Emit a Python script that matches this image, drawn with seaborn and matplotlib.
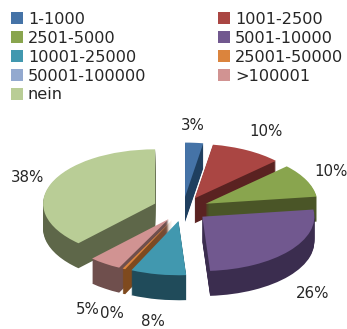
import matplotlib
matplotlib.use("Agg")
import matplotlib.pyplot as plt
import seaborn as sns

categories = ["1-1000", "1001-2500", "2501-5000", "5001-10000", "10001-25000",
              "25001-50000", "50001-100000", ">100001", "nein"]
shares = [2.6, 10.3, 10.0, 26.0, 8.0, 0.4, 0.0, 4.7, 38.0]
top_colors = ["#4573A7", "#AA4643", "#89A54E", "#71588F", "#4198AF",
              "#DB843D", "#93A9CF", "#D19392", "#B9CD96"]
side_colors = ["#1F3F5F", "#5A2221", "#4A5527", "#3B2D4F", "#204B5A",
               "#7F4A1E", "#55627A", "#6F4F4D", "#5E6749"]

W, H = 347, 329
SQUASH = 0.485
CX, CY = 183, 209
RADIUS = 112
DEPTH = 25
FONT = "DejaVu Sans"

sns.set_theme(style="white")
plt.rcParams["font.family"] = [FONT]

fig = plt.figure(figsize=(W / 100, H / 100), dpi=100, facecolor="white")
ax = fig.add_axes([0, 0, 1, 1])
ey = (H - CY) / SQUASH
explode = [25, 25, 25, 25, 25, 25, 25, 25, 30]

for d in range(DEPTH, 0, -1):
    ax.pie(shares, colors=side_colors, explode=explode, startangle=90, counterclock=False,
           radius=RADIUS, center=(CX, ey - d / SQUASH), frame=True,
           wedgeprops={"linewidth": 0})

wedges, _ = ax.pie(shares, colors=top_colors, explode=explode, startangle=90, counterclock=False,
                   radius=RADIUS, center=(CX, ey), frame=True,
                   wedgeprops={"linewidth": 0})
ax.set_aspect("auto")
ax.set_xlim(0, W)
ax.set_ylim(0, H / SQUASH)
ax.set_xticks([])
ax.set_yticks([])
ax.set_frame_on(False)

label_pos = [(193, 125), (266, 132), (331, 172), (313, 293), (153, 321),
             (112, 314), None, (88, 310), (28, 178)]
for v, pos in zip(shares, label_pos):
    if pos is None:
        continue
    fig.text(pos[0] / W, 1 - pos[1] / H, f"{round(v)}%", ha="center", va="center",
             fontsize=10.8, color="#262626")

order = [0, 2, 4, 6, 8, 1, 3, 5, 7]
leg = fig.legend([wedges[i] for i in order], [categories[i] for i in order],
                 ncols=2, loc="upper left", bbox_to_anchor=(11 / W, 1 - 12 / H),
                 frameon=False, fontsize=11.6, handlelength=0.75, handleheight=0.75,
                 handletextpad=0.3, labelspacing=0.24, columnspacing=4.45,
                 borderpad=0, borderaxespad=0, labelcolor="#262626")
fig.savefig("out.png", dpi=100, facecolor="white")
